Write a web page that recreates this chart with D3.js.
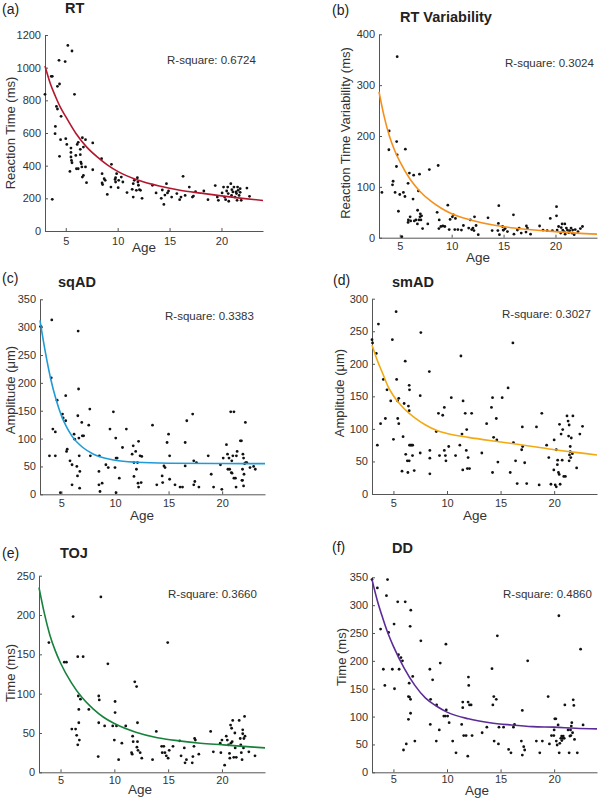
<!DOCTYPE html>
<html><head><meta charset="utf-8">
<script src="https://cdn.jsdelivr.net/npm/d3@7"></script>
<style>body{margin:0;background:#fff}svg{display:block;font-family:"Liberation Sans",Arial,sans-serif}</style>
</head><body><svg id="c" width="600" height="800"></svg>
<script>
// ---------- DATA ----------
const xTicks = [5, 10, 15, 20];
const ageDomain = [3, 24];

const rtPoints = [[3.0,837],[3.6,947],[3.7,947],[3.7,194],[3.97,596],[4.0,640],[4.1,763],[4.2,747],[4.2,886],[4.35,1045],[4.4,900],[4.4,457],[4.5,559],[4.55,702],[4.94,1037],[5.0,565],[5.1,530],[5.2,1136],[5.4,365],[5.5,508],[5.5,481],[5.5,453],[5.6,1102],[5.55,432],[5.6,418],[5.84,837],[5.97,463],[6.03,381],[6.1,530],[6.2,543],[6.2,381],[6.4,500],[6.4,467],[6.45,422],[6.5,412],[6.55,392],[6.6,571],[6.6,330],[6.7,340],[6.7,514],[6.9,559],[6.9,392],[7.0,296],[7.6,539],[7.6,375],[8.45,443],[8.5,351],[8.5,294],[8.55,284],[8.7,320],[8.8,310],[9.0,224],[9.4,408],[9.35,269],[9.75,316],[9.8,326],[9.8,300],[9.9,351],[10.05,265],[10.1,310],[10.35,330],[10.5,300],[10.9,235],[11.4,255],[11.5,290],[11.5,208],[11.6,310],[11.8,249],[11.9,326],[11.95,300],[12.0,280],[12.1,253],[12.2,249],[12.35,200],[13.35,280],[13.7,233],[14.2,200],[14.3,251],[14.45,163],[14.55,220],[14.7,290],[14.8,233],[14.9,245],[15.2,208],[15.7,229],[15.97,192],[16.1,208],[16.3,335],[16.5,218],[16.9,269],[17.2,208],[17.3,214],[17.5,241],[18.3,245],[18.7,192],[19.4,278],[19.6,208],[19.7,188],[20.06,233],[20.2,269],[20.3,208],[20.4,192],[20.5,245],[20.6,269],[20.65,229],[20.7,182],[20.9,290],[20.97,218],[21.0,253],[21.1,239],[21.2,269],[21.3,208],[21.45,229],[21.5,188],[21.55,269],[21.6,249],[21.7,218],[21.8,259],[21.9,188],[22.45,263],[22.7,212],[21.8,237],[21.4,239]];
const rtCurve = [[3,1010],[3.5,905],[4,825],[4.5,755],[5,700],[6,595],[7,515],[8,455],[9,405],[10,365],[12,310],[14,275],[16,250],[18,232],[20,215],[22,200],[24,187]];

const rtvPoints = [[3.28,89],[3.98,210],[3.95,173],[4.3,104],[4.36,111],[4.55,89],[4.68,140],[4.7,189],[4.75,163],[4.75,356],[4.87,52],[5.0,85],[5.2,2],[5.35,89],[5.5,81],[5.54,174],[5.8,107],[5.8,30],[5.83,35],[5.93,127],[6.0,41],[6.05,33],[6.28,76],[6.34,123],[6.4,33],[6.56,35],[6.7,27],[6.72,54],[6.8,92],[6.85,35],[6.9,125],[6.95,41],[6.98,47],[7.04,35],[7.1,43],[7.2,18],[7.7,27],[7.85,134],[8.6,50],[8.7,142],[8.77,18],[8.8,35],[8.96,22],[9.15,23],[9.34,22],[9.63,64],[9.76,16],[9.85,36],[10.07,41],[10.17,45],[10.3,16],[10.36,38],[10.6,16],[10.94,15],[11.13,24],[11.64,19],[11.8,35],[11.93,16],[12.05,19],[12.15,14],[12.2,41],[12.35,24],[12.56,6],[13.5,39],[13.9,14],[14.45,14],[14.5,28],[14.54,63],[14.6,6],[14.9,22],[14.96,15],[15.0,15],[15.15,18],[15.37,12],[15.95,45],[16.0,7],[16.33,15],[16.5,19],[16.7,9],[17.16,11],[17.2,23],[17.3,19],[17.6,7],[18.47,23],[18.8,15],[19.2,14],[19.5,38],[19.7,14],[20.1,61],[20.1,43],[20.16,15],[20.3,22],[20.5,9],[20.55,20],[20.64,27],[20.7,15],[20.83,12],[20.9,27],[20.93,7],[21.05,19],[21.15,15],[21.28,10],[21.37,14],[21.5,19],[21.6,9],[21.66,15],[21.8,6],[21.9,16],[22.17,12],[22.4,18],[22.6,22]];
const rtvCurve = [[3,287],[3.5,238],[4,200],[4.5,172],[5,150],[6,115],[7,90],[8,72],[9,58],[10,47],[12,34],[14,25],[16,19],[18,15],[20,12],[22,9],[24,7]];

const sqPoints = [[3.05,301],[3.1,301],[3.88,69],[4.1,313],[4.05,209],[4.2,117],[4.43,112],[4.43,69],[4.6,169],[4.9,3],[5.1,144],[5.16,137],[5.4,132],[5.4,177],[5.48,77],[5.54,81],[5.8,60],[5.99,53],[5.99,17],[6.18,108],[6.24,99],[6.44,50],[6.5,33],[6.53,141],[6.56,293],[6.6,189],[6.63,101],[6.66,69],[6.7,11],[6.72,41],[6.9,129],[6.95,105],[7.07,105],[7.55,124],[7.65,153],[7.7,69],[8.5,41],[8.54,69],[8.5,17],[8.6,5],[8.8,20],[9.15,53],[9.37,48],[9.53,117],[9.85,148],[10.0,48],[10.07,101],[10.1,65],[10.2,65],[10.1,3],[10.4,29],[10.7,84],[11.06,117],[11.6,72],[11.7,87],[11.77,57],[11.77,32],[11.93,77],[12.0,45],[12.1,57],[12.15,20],[12.2,95],[12.2,13],[12.34,69],[12.44,21],[12.5,68],[13.5,124],[13.9,17],[14.4,33],[14.45,21],[14.57,51],[14.67,48],[14.86,93],[15.0,108],[15.1,69],[15.1,27],[15.6,17],[16.07,13],[16.3,13],[16.55,93],[16.55,51],[16.7,132],[17.25,144],[17.35,60],[17.35,17],[17.45,23],[17.6,57],[17.83,13],[18.7,69],[18.98,36],[19.2,13],[19.84,53],[19.97,9],[20.1,65],[20.4,89],[20.5,72],[20.54,45],[20.64,65],[20.7,45],[20.8,148],[20.86,39],[20.9,60],[20.92,38],[21.0,69],[21.1,148],[21.1,29],[21.24,29],[21.3,13],[21.33,69],[21.4,77],[21.7,96],[21.8,96],[21.85,25],[21.9,25],[21.9,45],[21.94,72],[22.0,65],[22.0,15],[22.04,36],[22.1,55],[22.17,129],[22.2,57],[22.3,57],[22.6,48],[22.94,50],[23.1,45]];
const sqCurve = [[3,312],[3.5,255],[4,207],[4.5,170],[5,141],[5.5,120],[6,104],[7,84],[8,72],[9,65],[10,61],[12,57.5],[15,55.8],[20,55.2],[24,55]];

const smPoints = [[3.0,237],[3.05,232],[3.4,216],[3.5,75],[3.6,261],[3.8,108],[4.06,176],[4.25,116],[4.4,160],[4.75,143],[4.9,237],[5.0,84],[5.25,280],[5.3,176],[5.4,143],[5.4,116],[5.5,147],[5.5,108],[5.8,35],[5.9,88],[6.0,139],[6.1,204],[6.15,61],[6.3,51],[6.35,33],[6.4,135],[6.47,51],[6.47,128],[6.47,167],[6.5,160],[6.5,75],[6.6,75],[6.7,75],[6.78,59],[6.8,75],[6.94,36],[7.5,63],[7.5,151],[7.56,248],[8.35,188],[8.4,67],[8.4,55],[8.4,31],[9.0,96],[9.2,124],[9.3,59],[9.6,121],[9.75,133],[9.75,67],[9.85,59],[9.9,51],[10.16,73],[10.4,148],[10.8,59],[11.2,75],[11.3,212],[11.4,92],[11.47,37],[11.5,143],[11.7,124],[11.8,67],[11.84,99],[11.9,39],[11.97,56],[12.1,39],[12.3,124],[13.25,63],[13.7,108],[14.15,133],[14.25,148],[14.25,33],[14.35,87],[14.6,116],[14.65,83],[14.75,49],[15.15,148],[15.7,163],[15.9,33],[16.15,232],[16.2,79],[16.4,51],[16.55,16],[16.97,68],[17.03,103],[17.06,73],[17.25,48],[17.44,16],[18.35,103],[18.6,14],[18.85,124],[19.3,75],[19.5,56],[19.7,15],[19.97,37],[20.0,83],[20.1,14],[20.2,68],[20.2,11],[20.3,45],[20.33,52],[20.4,33],[20.47,30],[20.5,107],[20.56,15],[20.65,92],[20.75,52],[20.8,99],[20.9,27],[21.05,27],[21.2,120],[21.3,112],[21.35,89],[21.4,51],[21.4,106],[21.43,60],[21.5,73],[21.5,65],[21.55,56],[21.6,86],[21.7,62],[21.75,120],[22.1,40],[22.4,92],[22.65,104]];
const smCurve = [[3,229],[3.5,205],[4,185],[4.5,165],[5,151],[5.5,140],[6,131],[7,117],[8,106],[9,98],[10,93],[12,87],[15,80],[18,73],[20,68],[22,64],[24,60]];

const tojPoints = [[3.92,165],[5.35,140],[5.55,140],[6.17,198],[6.05,55],[6.4,55],[6.5,47],[6.6,35],[6.6,147],[6.65,97],[6.7,80],[6.7,63],[6.75,41],[6.85,93],[7.1,147],[7.63,80],[8.5,20],[8.55,63],[8.55,97],[8.6,92],[8.75,223],[9.1,59],[9.4,138],[9.85,59],[10.0,41],[10.07,76],[10.07,90],[10.2,59],[10.4,16],[10.7,37],[11.06,59],[11.6,25],[11.66,23],[11.7,46],[11.75,39],[11.9,115],[12.07,109],[12.1,32],[12.15,39],[12.15,63],[12.2,28],[12.4,25],[12.55,18],[13.55,16],[13.9,52],[14.4,33],[14.45,25],[14.6,33],[14.7,25],[14.83,21],[14.96,165],[15.0,18],[15.1,28],[15.45,33],[16.07,40],[16.2,21],[16.5,31],[16.57,12],[16.7,16],[17.24,12],[17.3,20],[17.4,33],[17.46,43],[17.53,41],[17.85,23],[18.95,52],[19.2,26],[19.84,37],[19.9,25],[20.0,41],[20.25,9],[20.4,46],[20.5,41],[20.6,35],[20.7,24],[20.73,18],[20.8,60],[20.83,37],[20.9,56],[20.95,39],[21.0,66],[21.1,19],[21.2,50],[21.23,31],[21.33,19],[21.6,66],[21.7,43],[21.75,35],[21.8,25],[21.87,16],[21.93,54],[21.93,49],[22.0,31],[22.04,43],[22.1,71],[22.14,46],[22.5,26],[23.07,21]];
const tojCurve = [[3,235],[3.5,202],[4,175],[4.5,155],[5,139],[6,114],[7,95],[8,81],[9,70],[10,62],[12,51],[14,44],[16,40],[18,37],[20,35],[22,33],[24,31]];

const ddPoints = [[3.0,346],[3.5,331],[3.8,257],[4.06,185],[4.2,156],[4.35,317],[4.45,346],[4.55,251],[4.9,185],[5.06,266],[5.1,150],[5.4,306],[5.47,211],[5.53,185],[5.7,206],[5.84,200],[5.94,40],[6.1,306],[6.2,51],[6.4,95],[6.4,136],[6.47,160],[6.5,135],[6.56,262],[6.6,131],[6.6,106],[6.62,291],[6.8,172],[7.0,56],[7.56,236],[8.4,185],[8.44,86],[8.47,131],[8.66,166],[9.0,56],[9.03,121],[9.28,76],[9.37,196],[9.7,101],[9.84,101],[9.9,230],[9.93,112],[10.06,101],[10.2,89],[10.53,56],[10.84,35],[11.37,86],[11.47,126],[11.47,116],[11.56,66],[11.78,66],[11.94,29],[11.97,126],[12.0,171],[12.03,156],[12.1,121],[12.25,121],[12.34,66],[13.28,71],[13.72,81],[14.2,186],[14.28,121],[14.37,136],[14.4,56],[14.6,131],[14.7,245],[14.8,51],[14.85,81],[15.28,81],[15.75,41],[15.97,35],[16.2,81],[16.3,86],[16.94,56],[17.03,31],[17.03,111],[17.16,46],[17.25,40],[17.53,200],[18.34,56],[18.66,35],[18.9,56],[19.44,136],[19.56,51],[19.75,66],[19.97,66],[20.0,76],[20.06,96],[20.16,96],[20.2,56],[20.28,49],[20.37,85],[20.44,281],[20.47,35],[20.53,52],[20.62,61],[20.7,65],[20.72,57],[20.8,61],[20.85,65],[20.94,61],[21.0,121],[21.3,76],[21.4,35],[21.47,65],[21.53,76],[21.56,66],[21.6,83],[21.65,89],[21.72,71],[21.78,130],[21.84,120],[21.9,59],[22.16,35],[22.47,221],[22.7,85]];
const ddCurve = [[3,346],[3.5,308],[4,277],[4.5,249],[5,226],[6,187],[7,156],[8,133],[9,119],[10,108],[12,96],[14,89],[16,85],[18,82],[20,81],[22,79],[24,78]];

const panelLetters = ["(a)", "(b)", "(c)", "(d)", "(e)", "(f)"];
const panelTitles = ["RT", "RT Variability", "sqAD", "smAD", "TOJ", "DD"];
const yLabels = ["Reaction Time (ms)", "Reaction Time Variability (ms)", "Amplitude (\u03bcm)", "Amplitude (\u03bcm)", "Time (ms)", "Time (ms)"];
const rSquares = ["0.6724", "0.3024", "0.3383", "0.3027", "0.3660", "0.4860"];
const yMaxes = [1200, 400, 350, 300, 250, 350];
const yTickSteps = [200, 100, 50, 50, 50, 50];
const allPoints = [rtPoints, rtvPoints, sqPoints, smPoints, tojPoints, ddPoints];
const allCurves = [rtCurve, rtvCurve, sqCurve, smCurve, tojCurve, ddCurve];

// ---------- LAYOUT / STYLE ----------
const colors = ["#b3172f", "#f5901e", "#1f9bd7", "#f3a90f", "#17823c", "#5b2c98"];
const layout = [
  {l:45, r:263, t:35, b:231, letter:[2,14], title:[65,13], rsq:[167,64], ylab:[10,133], age:[144,252], tickBase:245},
  {l:379, r:597, t:34.3, b:237.7, letter:[332,15], title:[400,22], rsq:[505,67], ylab:[345,133], age:[478,262], tickBase:250},
  {l:40, r:265, t:299.3, b:494.3, letter:[2,283], title:[58,287], rsq:[165,320], ylab:[10,390], age:[142,520], tickBase:507},
  {l:372, r:597, t:298.7, b:494, letter:[333,285], title:[392,287], rsq:[502,318], ylab:[339,393], age:[475,520], tickBase:507},
  {l:39, r:265, t:575.7, b:772.3, letter:[2,558], title:[60,558], rsq:[168,598], ylab:[10,673], age:[140,794], tickBase:784},
  {l:372, r:597, t:577.3, b:772.3, letter:[332,552], title:[392,553], rsq:[503,598], ylab:[341,657], age:[477,795], tickBase:783}
];

const svg = d3.select("#c");
const textCol = "#333";
const axisCol = "#555";

layout.forEach((L, i) => {
  const x = d3.scaleLinear().domain(ageDomain).range([L.l, L.r]);
  const y = d3.scaleLinear().domain([0, yMaxes[i]]).range([L.b, L.t]);
  const g = svg.append("g");

  // axes
  const yTicks = d3.range(0, yMaxes[i] + 1, yTickSteps[i]);
  const ya = g.append("g").attr("transform", `translate(${L.l},0)`)
    .call(d3.axisLeft(y).tickValues(yTicks).tickFormat(d3.format("d")).tickSizeInner(-3).tickSizeOuter(0).tickPadding(4));
  const xa = g.append("g").attr("transform", `translate(0,${L.b})`)
    .call(d3.axisBottom(x).tickValues(xTicks).tickFormat(d3.format("d")).tickSizeInner(-3).tickSizeOuter(0).tickPadding(4));
  [ya, xa].forEach(a => {
    a.selectAll("path,line").attr("stroke", axisCol).attr("stroke-width", 1);
    a.selectAll("text").attr("fill", textCol).style("font-size", "11px").style("font-family", '"Liberation Sans",Arial,sans-serif');
  });
  xa.selectAll("text").attr("dy", null).attr("y", L.tickBase - L.b);

  // points
  g.append("g").selectAll("circle").data(allPoints[i]).join("circle")
    .attr("cx", d => x(d[0])).attr("cy", d => y(d[1])).attr("r", 1.4).attr("fill", "#111");

  // fitted curve
  g.append("path").datum(allCurves[i])
    .attr("d", d3.line().x(d => x(d[0])).y(d => y(d[1])).curve(d3.curveMonotoneX))
    .attr("fill", "none").attr("stroke", colors[i]).attr("stroke-width", 1.6);

  // texts
  g.append("text").attr("x", L.letter[0]).attr("y", L.letter[1]).text(panelLetters[i])
    .attr("fill", "#222").style("font-size", "14px");
  g.append("text").attr("x", L.title[0]).attr("y", L.title[1]).text(panelTitles[i])
    .attr("fill", "#222").style("font-size", "14.5px").style("font-weight", "bold");
  g.append("text").attr("x", L.rsq[0]).attr("y", L.rsq[1]).text("R-square: " + rSquares[i])
    .attr("fill", textCol).style("font-size", "11.5px");
  g.append("text").attr("transform", `translate(${L.ylab[0]},${L.ylab[1]}) rotate(-90)`)
    .attr("text-anchor", "middle").attr("dy", "0.35em").text(yLabels[i])
    .attr("fill", textCol).style("font-size", "13px");
  g.append("text").attr("x", L.age[0]).attr("y", L.age[1]).attr("text-anchor", "middle").text("Age")
    .attr("fill", textCol).style("font-size", "13.5px");
});
</script></body></html>
